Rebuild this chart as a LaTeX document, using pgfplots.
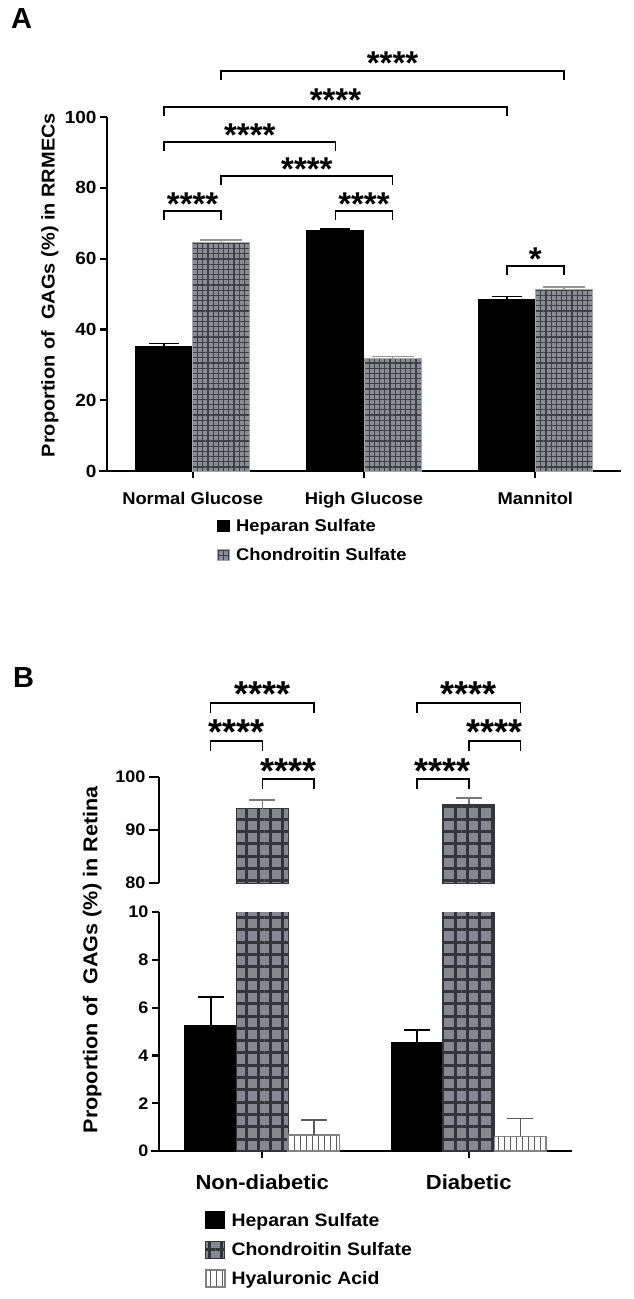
\documentclass[border=0pt]{standalone}
\usepackage{fontspec}
\setmainfont{Liberation Sans}[FakeStretch=1.08]
\newfontfamily\plain{Liberation Sans}
\usepackage{pgfplots}
\usepackage{pgfplotstable}
\pgfplotsset{compat=1.18}
\usetikzlibrary{patterns.meta}

\definecolor{csA}{RGB}{140,140,150}
\definecolor{csAl}{RGB}{62,62,70}
\definecolor{csAd}{RGB}{165,165,170}
\definecolor{csAe}{RGB}{150,150,150}
\definecolor{csB}{RGB}{135,135,145}
\definecolor{csBl}{RGB}{52,52,58}
\definecolor{csBe}{RGB}{120,120,125}
\definecolor{haL}{RGB}{90,90,90}
\definecolor{haE}{RGB}{130,130,130}

\newcommand{\fs}[1]{\fontsize{#1}{#1}\selectfont\bfseries}
\newcommand{\fp}[1]{\plain\fontsize{#1}{#1}\selectfont\bfseries}

% Panel A data
\pgfplotstableread{
x y e
0 35.2 0.8
1 68.0 0.4
2 48.5 0.8
}\dataAhs
\pgfplotstableread{
x y e
0 64.6 0.7
1 31.7 0.6
2 51.2 0.8
}\dataAcs

% Panel B data
\pgfplotstableread{
x y e
0 5.26 1.17
1 4.54 0.52
}\dataBhs
\pgfplotstableread{
x y e
0 94.0 1.7
1 94.9 1.1
}\dataBcs
\pgfplotstableread{
x y e
0 0.68 0.62
1 0.61 0.76
}\dataBha

\newcommand{\brA}[5]{%
  \draw[brk] ([yshift=-9pt]axis cs:#1,#4) -- (axis cs:#1,#4) -- (axis cs:#2,#4) -- ([yshift=-9pt]axis cs:#2,#4);
  \node[starsA] at ([yshift=-4pt]axis cs:#3,#4) {#5};
}
\newcommand{\brB}[5]{%
  \draw[brk] ([yshift=-10pt]axis cs:#1,#4) -- (axis cs:#1,#4) -- (axis cs:#2,#4) -- ([yshift=-10pt]axis cs:#2,#4);
  \node[starsB] at ([yshift=-4pt]axis cs:#3,#4) {#5};
}

\begin{document}
\begin{tikzpicture}[
  brk/.style={line width=1.5pt, black},
  starsA/.style={font=\fp{33}, inner sep=0pt, anchor=base},
  starsB/.style={font=\fp{36}, inner sep=0pt, anchor=base},
]
\node[anchor=north west, inner sep=0pt, font=\fp{29}] at (11pt,-8pt) {A};
\node[anchor=north west, inner sep=0pt, font=\fp{29}] at (13pt,-667pt) {B};

% ---------------- Panel A ----------------
\begin{axis}[
  at={(107pt,-471pt)}, anchor=south west,
  scale only axis, width=514pt, height=354pt,
  xmin=-0.5, xmax=2.5, ymin=0, ymax=100,
  axis x line=bottom, axis y line=left,
  axis line style={-, line width=2.2pt, black},
  x axis line style={shorten <=-8pt},
  xtick={0,1,2}, xticklabels={Normal Glucose,High Glucose,Mannitol},
  ytick={0,20,...,100},
  tick align=outside, major tick length=7pt,
  tick style={line width=2.2pt, black},
  xticklabel style={font=\fs{17}, anchor=base, yshift=-26pt},
  yticklabel style={font=\fs{17.6}},
  /pgf/number format/assume math mode=true,
  ylabel={Proportion of\ \ GAGs (\%) in RRMECs},
  ylabel style={font=\fs{18.5}, at={(axis description cs:-0.111,0.525)}, anchor=center},
  clip mode=individual,
  legend style={at={(0.214,-0.131)}, anchor=north west, draw=none, fill=none,
    inner sep=0pt, row sep=11pt, font=\fs{17}, cells={anchor=west},
    /tikz/every odd column/.append style={column sep=4pt}},
  legend image code/.code={\draw[#1] (0pt,-5.5pt) rectangle (12pt,5.5pt);},
]
\addplot[ybar, bar width=0.3333, bar shift=0, fill=black, draw=black, line width=1pt,
  error bars/.cd, y dir=plus, y explicit, error mark=|,
  error bar style={line width=1.6pt, black},
  error mark options={mark size=15pt, line width=1.6pt, black}]
  table[x expr=\thisrow{x}-0.1667, y=y, y error=e]{\dataAhs};
\addlegendentry{Heparan Sulfate}
\addplot[ybar, bar width=0.3333, bar shift=0, fill=csA, draw=csAd, line width=1pt,
  postaction={pattern={Hatch[distance=5.2pt, line width=1.3pt]}, pattern color=csAl},
  error bars/.cd, y dir=plus, y explicit, error mark=|,
  error bar style={line width=1.4pt, csAe},
  error mark options={mark size=21pt, line width=1.4pt, csAe}]
  table[x expr=\thisrow{x}+0.1667, y=y, y error=e]{\dataAcs};
\addlegendentry{Chondroitin Sulfate}

\brA{-0.1667}{0.1667}{0}{73.4}{****}
\brA{0.8333}{1.1667}{1}{73.4}{****}
\brA{0.1667}{1.1667}{0.6667}{83.3}{****}
\brA{-0.1667}{0.8333}{0.3333}{92.9}{****}
\brA{-0.1667}{1.8333}{0.8333}{102.8}{****}
\brA{0.1667}{2.1667}{1.1667}{113.0}{****}
\brA{1.8333}{2.1667}{2}{57.9}{*}
\end{axis}

% ---------------- Panel B upper ----------------
\begin{axis}[
  at={(159pt,-883pt)}, anchor=south west,
  scale only axis, width=413pt, height=106pt,
  xmin=-0.5, xmax=1.5, ymin=80, ymax=100,
  axis x line=none, axis y line=left,
  axis line style={-, line width=2.2pt, black},
  xtick=\empty, ytick={80,90,100},
  tick align=outside, major tick length=10pt,
  tick style={line width=2.2pt, black},
  yticklabel style={font=\fs{16.7}},
  /pgf/number format/assume math mode=true,
  clip mode=individual,
]
\addplot[ybar, bar width=0.25, bar shift=0, fill=csB, draw=csBl, line width=1pt,
  postaction={pattern={Hatch[distance=12.3pt, line width=3pt]}, pattern color=csBl},
  error bars/.cd, y dir=plus, y explicit, error mark=|,
  error bar style={line width=1.5pt, csBe},
  error mark options={mark size=13pt, line width=1.5pt, csBe}]
  table[x=x, y=y, y error=e]{\dataBcs};

\brB{-0.25}{0}{-0.125}{106.8}{****}
\brB{0}{0.25}{0.125}{99.6}{****}
\brB{-0.25}{0.25}{0}{114.0}{****}
\brB{0.75}{1}{0.875}{99.6}{****}
\brB{1}{1.25}{1.125}{106.8}{****}
\brB{0.75}{1.25}{1}{114.0}{****}
\end{axis}

% ---------------- Panel B lower ----------------
\begin{axis}[
  at={(159pt,-1151pt)}, anchor=south west,
  scale only axis, width=413pt, height=239pt,
  xmin=-0.5, xmax=1.5, ymin=0, ymax=10,
  axis x line=bottom, axis y line=left,
  axis line style={-, line width=2.2pt, black},
  x axis line style={shorten <=-8pt},
  xtick={0,1}, xticklabels={Non-diabetic,Diabetic},
  ytick={0,2,...,10},
  tick align=outside, major tick length=7pt,
  tick style={line width=2.2pt, black},
  xticklabel style={font=\fs{20.4}, anchor=base, yshift=-31pt},
  yticklabel style={font=\fs{16.7}},
  /pgf/number format/assume math mode=true,
  ylabel={Proportion of\ \ GAGs (\%) in Retina},
  ylabel style={font=\fs{20}, at={(axis description cs:-0.162,0.80)}, anchor=center},
  legend style={at={(0.111,-0.251)}, anchor=north west, draw=none, fill=none,
    inner sep=0pt, row sep=10.5pt, font=\fs{18}, cells={anchor=west},
    /tikz/every odd column/.append style={column sep=4pt}},
  legend image code/.code={\draw[#1] (0pt,-8.5pt) rectangle (19pt,8.5pt);},
]
\addplot[ybar, bar width=0.25, bar shift=0, fill=black, draw=black, line width=1pt,
  error bars/.cd, y dir=plus, y explicit, error mark=|,
  error bar style={line width=1.8pt, black},
  error mark options={mark size=13pt, line width=1.8pt, black}]
  table[x expr=\thisrow{x}-0.25, y=y, y error=e]{\dataBhs};
\addlegendentry{Heparan Sulfate}
\addplot[ybar, bar width=0.25, bar shift=0, fill=csB, draw=csBl, line width=1pt,
  postaction={pattern={Hatch[distance=12.3pt, line width=3pt]}, pattern color=csBl}]
  table[x=x, y=y]{\dataBcs};
\addlegendentry{Chondroitin Sulfate}
\addplot[ybar, bar width=0.25, bar shift=0, fill=white, draw=haE, line width=1.5pt,
  postaction={pattern={Lines[angle=90, distance=6pt, line width=1pt]}, pattern color=haL},
  error bars/.cd, y dir=plus, y explicit, error mark=|,
  error bar style={line width=1.5pt, haL},
  error mark options={mark size=13pt, line width=1.5pt, haL}]
  table[x expr=\thisrow{x}+0.25, y=y, y error=e]{\dataBha};
\addlegendentry{Hyaluronic Acid}
\end{axis}

\pgfresetboundingbox
\path[use as bounding box] (0,0) rectangle (633pt,-1299pt);
\end{tikzpicture}
\end{document}
